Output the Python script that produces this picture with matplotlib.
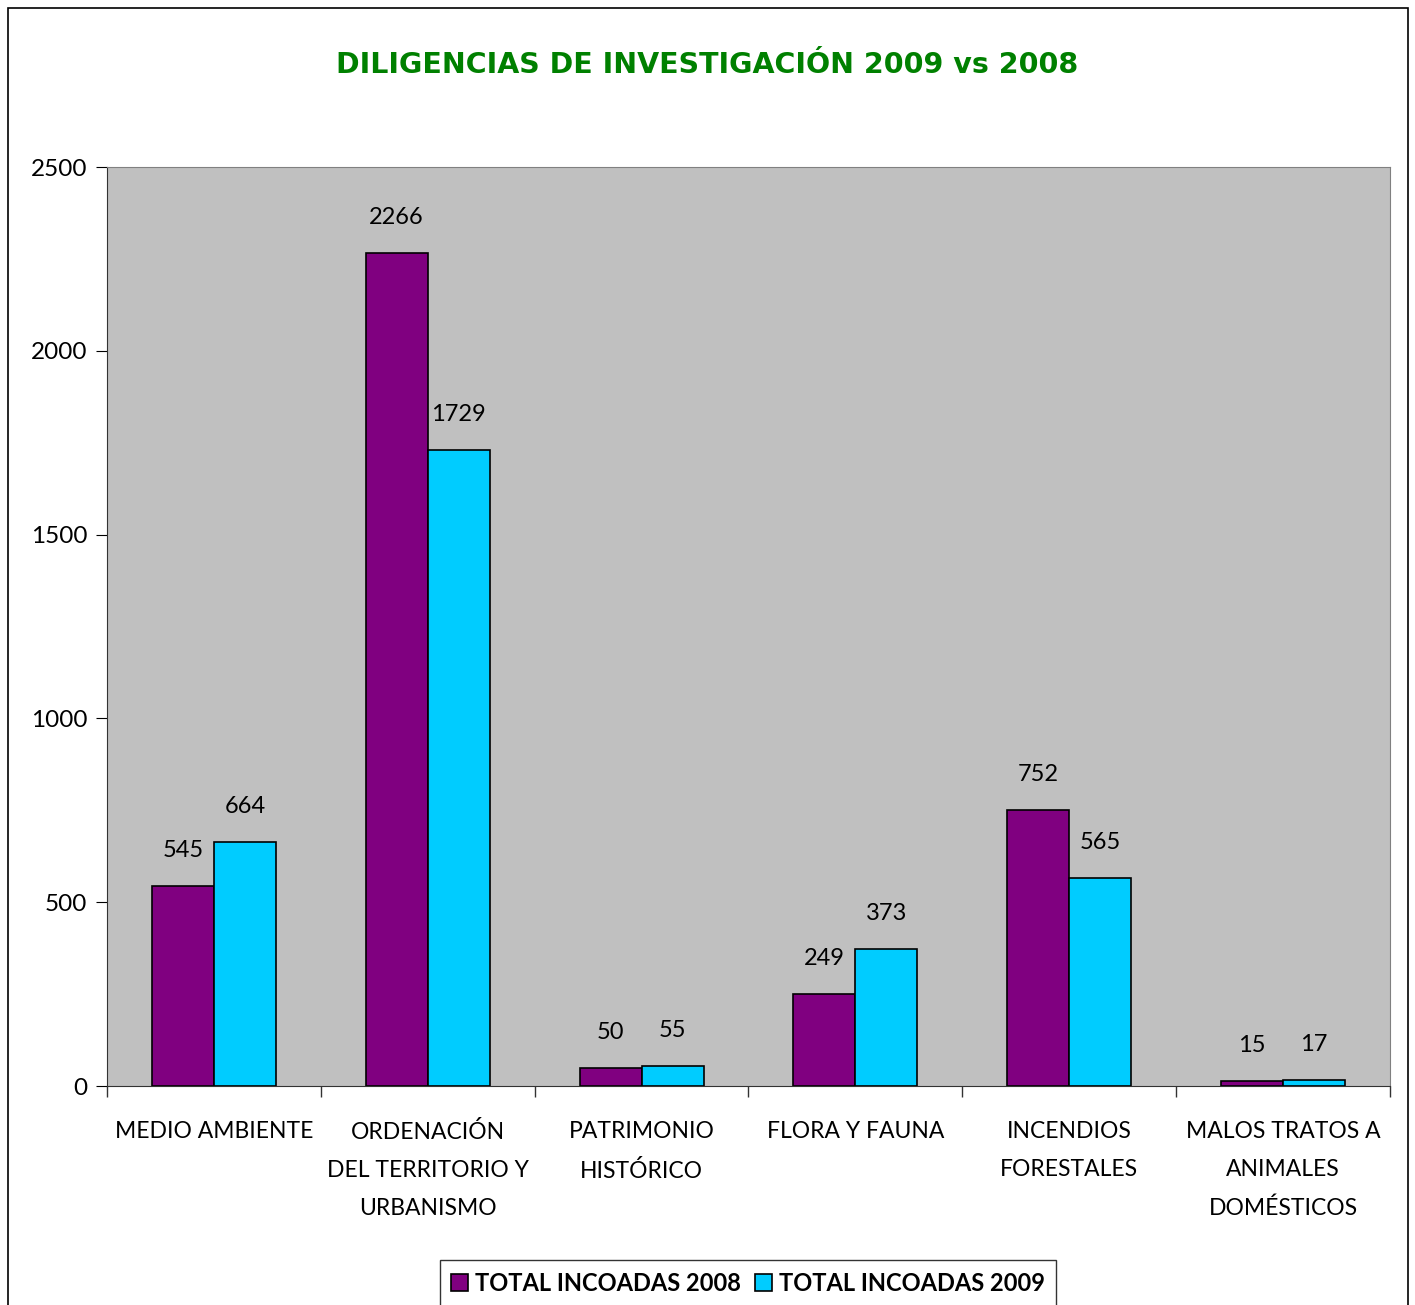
import matplotlib.pyplot as plt
import numpy as np
from matplotlib.patches import Rectangle

categories = [
    "MEDIO AMBIENTE",
    "ORDENACIÓN\nDEL TERRITORIO Y\nURBANISMO",
    "PATRIMONIO\nHISTÓRICO",
    "FLORA Y FAUNA",
    "INCENDIOS\nFORESTALES",
    "MALOS TRATOS A\nANIMALES\nDOMÉSTICOS",
]
incoadas_2008 = [545, 2266, 50, 249, 752, 15]
incoadas_2009 = [664, 1729, 55, 373, 565, 17]
yticks = [0, 500, 1000, 1500, 2000, 2500]

plt.rcParams["font.family"] = ["Lato", "DejaVu Sans"]

fig = plt.figure(figsize=(14.15, 13.05), dpi=100)
ax = fig.add_axes([0.0756, 0.1678, 0.9067, 0.7042])

# outer frame of the chart
fig.patches.append(Rectangle((8 / 1415, -0.01), 1400 / 1415, 1.0 - 8 / 1305 + 0.01,
                             transform=fig.transFigure, fill=False,
                             edgecolor="black", linewidth=1.2))

x = np.arange(len(categories))
w = 0.29
ax.bar(x - w / 2, incoadas_2008, w, color="#800080", edgecolor="black",
       linewidth=1.2, label="TOTAL INCOADAS 2008")
ax.bar(x + w / 2, incoadas_2009, w, color="#00CCFF", edgecolor="black",
       linewidth=1.2, label="TOTAL INCOADAS 2009")

for i in range(len(categories)):
    ax.text(x[i] - w / 2, incoadas_2008[i] + 68, str(incoadas_2008[i]),
            ha="center", va="bottom", fontsize=17)
    ax.text(x[i] + w / 2, incoadas_2009[i] + 68, str(incoadas_2009[i]),
            ha="center", va="bottom", fontsize=17)

ax.set_facecolor("#C0C0C0")
ax.set_xlim(-0.5, len(categories) - 0.5)
ax.set_ylim(0, 2500)
ax.set_yticks(yticks)
ax.tick_params(axis="y", labelsize=17.5, length=8, pad=6)

ax.set_xticks(x)
ax.set_xticklabels(categories, fontsize=16.5, linespacing=2.0, va="top")
ax.tick_params(axis="x", length=0, pad=25)
ax.set_xticks(np.arange(len(categories) + 1) - 0.5, minor=True)
ax.tick_params(axis="x", which="minor", length=8, width=1, color="#333333")

for side in ["top", "right"]:
    ax.spines[side].set_color("#808080")
ax.spines["left"].set_color("#333333")
ax.spines["bottom"].set_color("#333333")

fig.text(0.5, 0.950, "DILIGENCIAS DE INVESTIGACIÓN 2009 vs 2008", ha="center",
         va="center", fontsize=20.5, fontweight="bold", color="#008000",
         family=["DejaVu Sans"])

leg = fig.legend(loc="upper center", bbox_to_anchor=(0.5286, 0.0345), ncol=2,
                 frameon=True, fancybox=False, edgecolor="black",
                 prop={"size": 17, "weight": "bold"}, handlelength=0.7,
                 handleheight=0.7, handletextpad=0.3, columnspacing=0.6,
                 borderpad=0.5, borderaxespad=0)
leg.get_frame().set_linewidth(1.0)

fig.savefig("out.png", dpi=100)
